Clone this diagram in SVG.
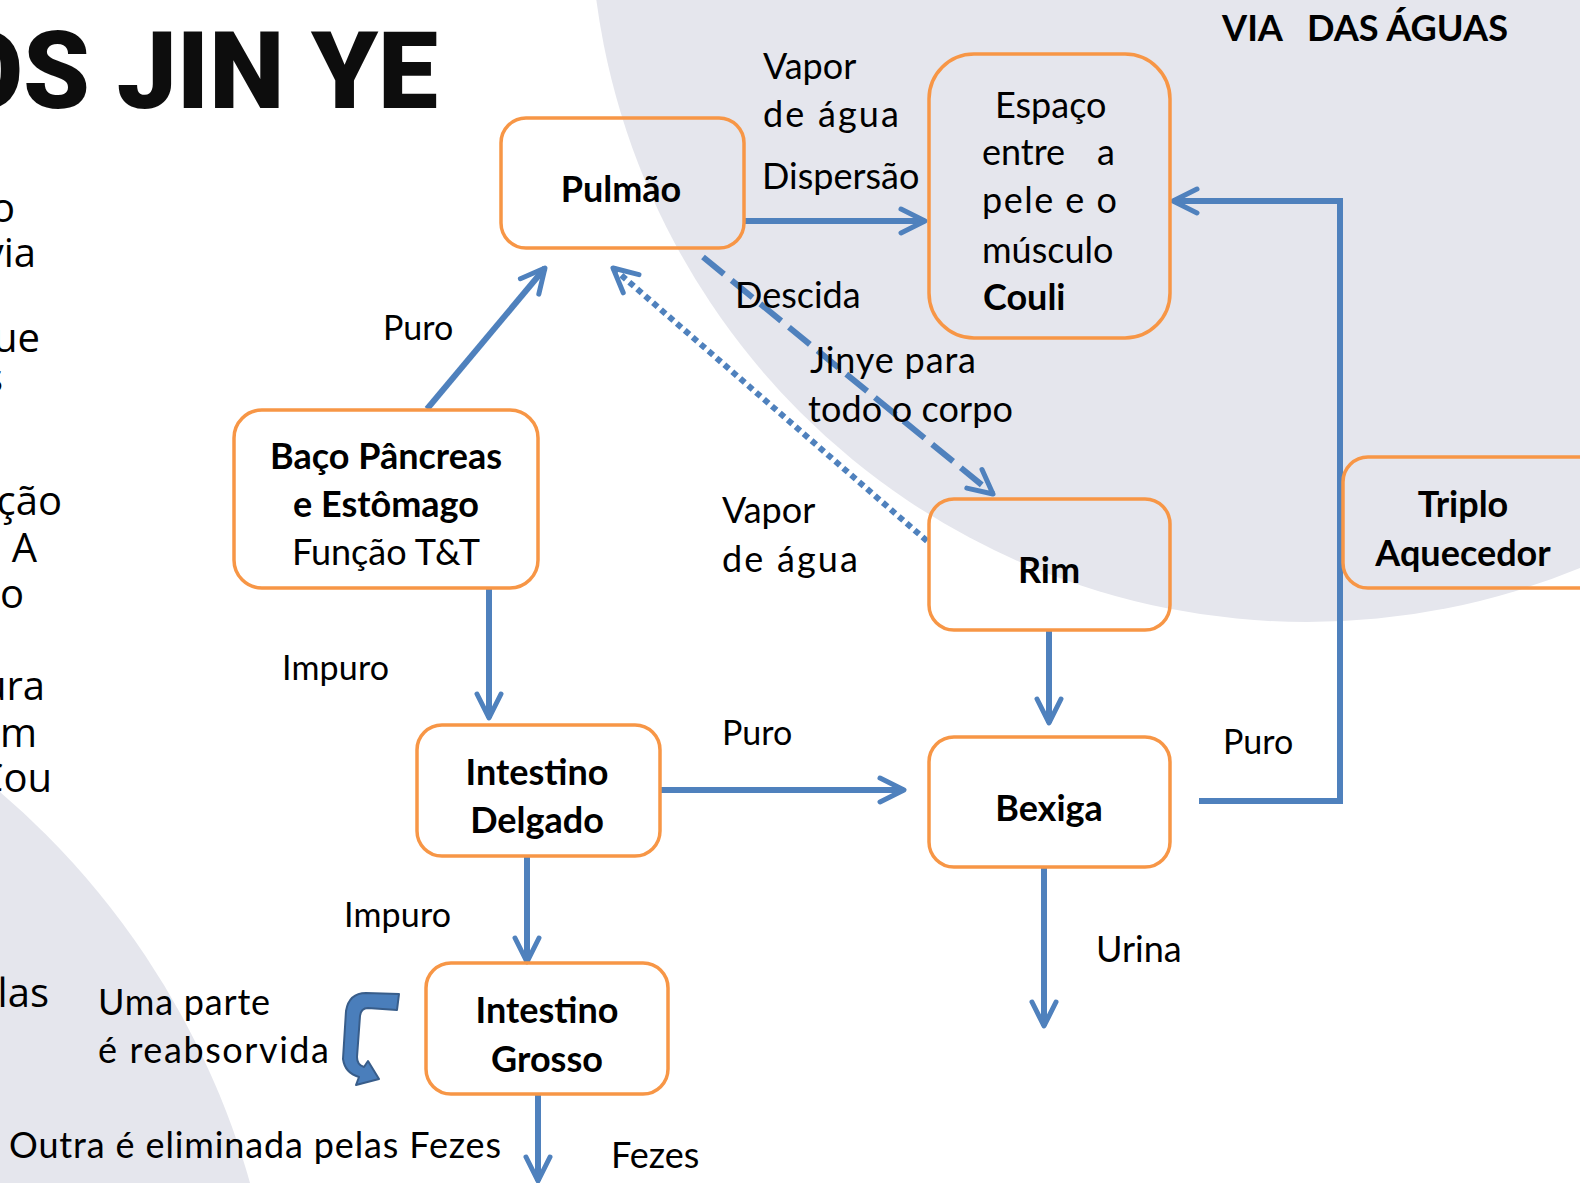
<svg xmlns="http://www.w3.org/2000/svg" width="1580" height="1183" viewBox="0 0 1580 1183">
<style>
  .bg { fill: #E5E6ED; }
  .box { fill: none; stroke: #F79646; stroke-width: 3.5; }
  .lbl { font-family: Lato, "Open Sans", "Liberation Sans", sans-serif; font-size: 36px; fill: #000; }
  .sm { font-size: 34px; }
  .b { font-weight: 700; }
  .c { text-anchor: middle; }
  .cut { font-family: "Open Sans", "Noto Sans", "Liberation Sans", sans-serif; font-size: 40px; fill: #000; text-anchor: end; }
  .ln { fill: none; stroke: #4F81BD; stroke-width: 6; marker-end: url(#ah); }
  .ah { fill: none; stroke: #4F81BD; stroke-width: 5; stroke-linecap: round; stroke-linejoin: round; stroke-dasharray: none; }
</style>
<defs>
  <marker id="ah" markerUnits="userSpaceOnUse" orient="auto" refX="0" refY="0" markerWidth="60" markerHeight="60" viewBox="-30 -30 60 60" overflow="visible">
    <path class="ah" d="M -24 -12 L 0 0 L -24 12"/>
  </marker>
</defs>
<rect width="1580" height="1183" fill="#FFFFFF"/>
<g id="background">
  <circle class="bg" cx="1307" cy="-95" r="717"/>
  <circle class="bg" cx="-520" cy="1400" r="800"/>
</g>
<g id="title">
  <text x="438" y="108" text-anchor="end" font-family="Roboto, 'Liberation Sans', sans-serif" font-weight="900" font-size="107" fill="#0D0D0D">OS JIN YE</text>
  <text x="1222" y="41" class="lbl b" font-size="41" textLength="61" lengthAdjust="spacingAndGlyphs">VIA</text>
  <text x="1307" y="41" class="lbl b" font-size="41" textLength="201" lengthAdjust="spacingAndGlyphs">DAS ÁGUAS</text>
</g>
<g id="cut-text">
  <text class="cut" x="15" y="222">o</text>
  <text class="cut" x="36" y="267">via</text>
  <text class="cut" x="40" y="352">ue</text>
  <text class="cut" x="3" y="392">s</text>
  <text class="cut" x="62" y="515">ção</text>
  <text class="cut" x="37" y="562">A</text>
  <text class="cut" x="24" y="608">o</text>
  <text class="cut" x="45" y="700">ura</text>
  <text class="cut" x="37" y="747">m</text>
  <text class="cut" x="52" y="792">Cou</text>
  <text class="cut" x="49" y="1007">las</text>
</g>
<g id="connectors">
  <path class="ln" d="M 427 409 L 545 268"/>
  <path class="ln" d="M 744 221 L 925 221"/>
  <path class="ln" d="M 703 257 L 993 494" stroke-dasharray="27 10"/>
  <path class="ln" d="M 927 541 L 613 268" stroke-dasharray="6 4.5"/>
  <path class="ln" d="M 489 588 L 489 718"/>
  <path class="ln" d="M 1049 630 L 1049 723"/>
  <path class="ln" d="M 660 790 L 904 790"/>
  <path class="ln" d="M 527 855 L 527 962"/>
  <path class="ln" d="M 1199 801 L 1340 801 L 1340 201 L 1173 201"/>
  <path class="ln" d="M 1044 867 L 1044 1026"/>
  <path class="ln" d="M 538 1095 L 538 1181"/>
  <path id="reabsorb" d="M 399 994 L 397 1010 L 368 1008 Q 361 1008 360 1016 L 357 1057 Q 357 1065 364 1067 L 368 1061 L 379 1079 L 356 1085 L 359 1077 Q 345 1073 343 1059 L 346 1011 Q 349 993 366 993 Z" fill="#4A7EBB" stroke="#385D8A" stroke-width="2" stroke-linejoin="round"/>
</g>
<g id="edge-labels" class="lbl">
  <text x="763" y="79">Vapor</text>
  <text x="763" y="127" textLength="136">de água</text>
  <text x="762" y="189">Dispersão</text>
  <text x="735" y="308">Descida</text>
  <text x="810" y="373" textLength="166">Jinye para</text>
  <text x="808" y="422" textLength="205">todo o corpo</text>
  <text class="sm" x="383" y="340">Puro</text>
  <text x="722" y="523">Vapor</text>
  <text x="722" y="572" textLength="136">de água</text>
  <text class="sm" x="282" y="680" textLength="107">Impuro</text>
  <text class="sm" x="722" y="745">Puro</text>
  <text class="sm" x="1223" y="754">Puro</text>
  <text x="1096" y="962">Urina</text>
  <text class="sm" x="344" y="927" textLength="107">Impuro</text>
  <text x="98" y="1015" textLength="172">Uma parte</text>
  <text x="98" y="1063" textLength="231">é reabsorvida</text>
  <text x="9" y="1158" textLength="492">Outra é eliminada pelas Fezes</text>
  <text x="611" y="1168">Fezes</text>
</g>
<g id="node-pulmao">
  <rect class="box" x="501" y="118" width="243" height="130" rx="25"/>
  <text class="lbl b c" x="621" y="202">Pulmão</text>
</g>
<g id="node-espaco">
  <rect class="box" x="929" y="54" width="241" height="284" rx="45"/>
  <text class="lbl" x="995" y="118">Espaço</text>
  <text class="lbl" x="982" y="165">entre<tspan x="1097">a</tspan></text>
  <text class="lbl" x="982" y="213" textLength="135">pele e o</text>
  <text class="lbl" x="982" y="263">músculo</text>
  <text class="lbl b" x="983" y="310">Couli</text>
</g>
<g id="node-baco">
  <rect class="box" x="234" y="410" width="304" height="178" rx="28"/>
  <text class="lbl b c" x="386" y="469">Baço Pâncreas</text>
  <text class="lbl b c" x="386" y="517">e Estômago</text>
  <text class="lbl c" x="386" y="565">Função T&amp;T</text>
</g>
<g id="node-rim">
  <rect class="box" x="929" y="499" width="241" height="131" rx="25"/>
  <text class="lbl b c" x="1049" y="583">Rim</text>
</g>
<g id="node-triplo">
  <rect class="box" x="1343" y="457" width="260" height="131" rx="25"/>
  <text class="lbl b c" x="1463" y="517">Triplo</text>
  <text class="lbl b c" x="1463" y="566">Aquecedor</text>
</g>
<g id="node-delgado">
  <rect class="box" x="417" y="725" width="243" height="131" rx="25"/>
  <text class="lbl b c" x="537" y="785">Intestino</text>
  <text class="lbl b c" x="537" y="833">Delgado</text>
</g>
<g id="node-bexiga">
  <rect class="box" x="929" y="737" width="241" height="130" rx="25"/>
  <text class="lbl b c" x="1049" y="821">Bexiga</text>
</g>
<g id="node-grosso">
  <rect class="box" x="426" y="963" width="242" height="131" rx="25"/>
  <text class="lbl b c" x="547" y="1023">Intestino</text>
  <text class="lbl b c" x="547" y="1072">Grosso</text>
</g>
</svg>
